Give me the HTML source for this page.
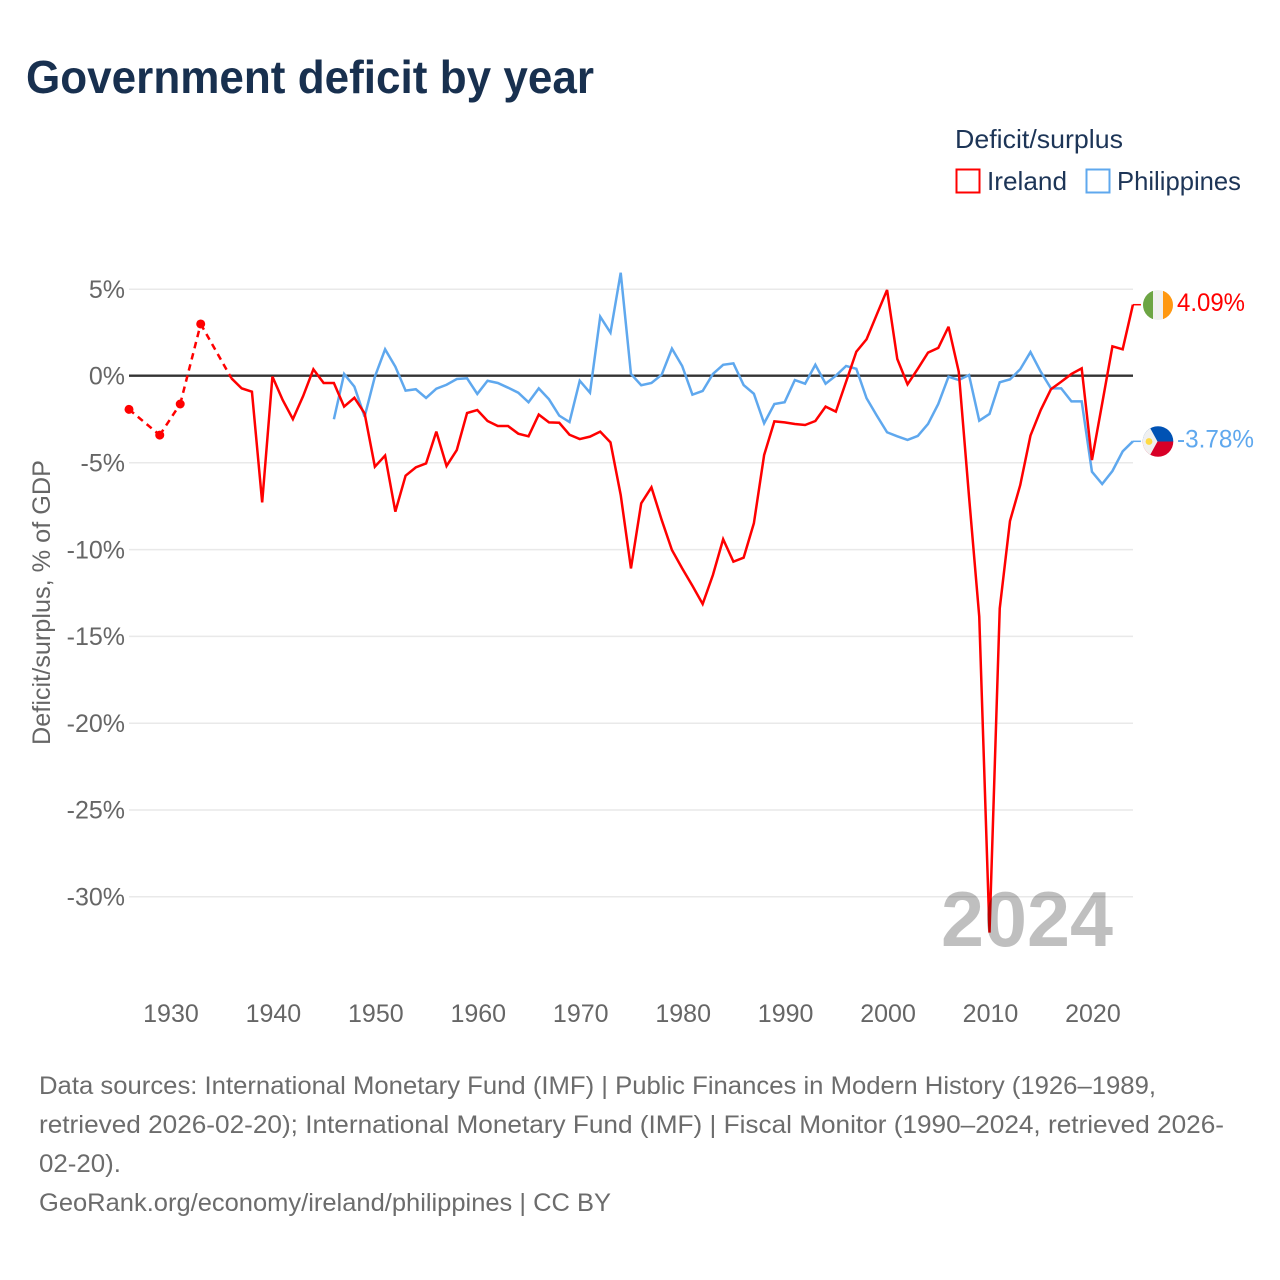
<!DOCTYPE html>
<html lang="en">
<head>
<meta charset="utf-8">
<title>Government deficit by year</title>
<style>
html,body{margin:0;padding:0;background:#fff;}
svg{display:block;font-family:"Liberation Sans",sans-serif;}
</style>
</head>
<body>
<svg id="chart" xmlns="http://www.w3.org/2000/svg" width="1280" height="1280" viewBox="0 0 1280 1280">
  <rect x="0" y="0" width="1280" height="1280" fill="#fff"/>
  <text x="26" y="93" font-size="46" font-weight="700" fill="#18304f" textLength="568" lengthAdjust="spacingAndGlyphs">Government deficit by year</text>

  <g>
    <text x="955" y="148" font-size="26" fill="#1d3557" textLength="168" lengthAdjust="spacingAndGlyphs">Deficit/surplus</text>
    <g>
      <rect x="956.5" y="169.5" width="23" height="23" fill="none" stroke="#ff0000" stroke-width="2"/>
      <text x="987" y="190" font-size="26" fill="#1d3557" textLength="80" lengthAdjust="spacingAndGlyphs">Ireland</text>
    </g>
    <g>
      <rect x="1086.5" y="169.5" width="23" height="23" fill="none" stroke="#5fa8ee" stroke-width="2"/>
      <text x="1117" y="190" font-size="26" fill="#1d3557" textLength="124" lengthAdjust="spacingAndGlyphs">Philippines</text>
    </g>
  </g>

  <text transform="translate(50 745) rotate(-90)" font-size="25" fill="#666" textLength="285" lengthAdjust="spacingAndGlyphs">Deficit/surplus, % of GDP</text>

  <g id="grid"></g>
  <g id="ytick-labels"></g>
  <g id="xtick-labels"></g>
  <g id="zero"></g>
  <g id="series"></g>

  <text x="941" y="946" font-size="78" font-weight="700" fill="#000" fill-opacity="0.25" textLength="172" lengthAdjust="spacingAndGlyphs">2024</text>

  <g id="flag-ireland">
    <clipPath id="clip-ie"><circle cx="1158" cy="305" r="15"/></clipPath>
    <g clip-path="url(#clip-ie)">
      <rect x="1143" y="290" width="30" height="30" fill="#f0f0f0"/>
      <rect x="1143" y="290" width="10" height="30" fill="#6da544"/>
      <rect x="1163" y="290" width="10" height="30" fill="#ff9811"/>
    </g>
  </g>
  <g id="flag-philippines">
    <clipPath id="clip-ph"><circle cx="1158" cy="441.5" r="15.3"/></clipPath>
    <g clip-path="url(#clip-ph)">
      <rect x="1142" y="426" width="32" height="15.5" fill="#0052b4"/>
      <rect x="1142" y="441.5" width="32" height="15.5" fill="#d80027"/>
      <polygon points="1142,426 1149,426 1157.5,441.5 1149,457 1142,457" fill="#f0f0f0"/>
      <circle cx="1149" cy="441.5" r="3.4" fill="#ffda44"/>
    </g>
  </g>
  <text id="label-ireland" x="1177" y="311" font-size="25" fill="#ff0000" textLength="68" lengthAdjust="spacingAndGlyphs"></text>
  <text id="label-philippines" x="1177" y="447.5" font-size="25" fill="#5fa8ee" textLength="77" lengthAdjust="spacingAndGlyphs"></text>

  <g font-size="25" fill="#6c6c6c">
    <text x="39" y="1094" textLength="1117" lengthAdjust="spacingAndGlyphs">Data sources: International Monetary Fund (IMF) | Public Finances in Modern History (1926–1989,</text>
    <text x="39" y="1133" textLength="1185" lengthAdjust="spacingAndGlyphs">retrieved 2026-02-20); International Monetary Fund (IMF) | Fiscal Monitor (1990–2024, retrieved 2026-</text>
    <text x="39" y="1172" textLength="82" lengthAdjust="spacingAndGlyphs">02-20).</text>
    <text x="39" y="1211" textLength="572" lengthAdjust="spacingAndGlyphs">GeoRank.org/economy/ireland/philippines | CC BY</text>
  </g>
</svg>
<script>
const yTicks = [5, 0, -5, -10, -15, -20, -25, -30];
const xTicks = [1930, 1940, 1950, 1960, 1970, 1980, 1990, 2000, 2010, 2020];
const irelandStartYear = 1926;
const irelandValues = [
  -1.94, null, null, -3.42,
  null, -1.63, null, 2.98, null, null, -0.15, -0.73, -0.92, -7.3,
  -0.05, -1.4, -2.5, -1.17, 0.37, -0.42, -0.42, -1.78, -1.27, -2.17,
  -5.24, -4.6, -7.83, -5.76, -5.28, -5.05, -3.22, -5.2, -4.28, -2.15,
  -1.98, -2.61, -2.9, -2.9, -3.34, -3.49, -2.24, -2.69, -2.71, -3.4,
  -3.65, -3.51, -3.22, -3.84, -6.87, -11.1, -7.35, -6.43, -8.31, -10.04,
  -11.1, -12.1, -13.15, -11.48, -9.42, -10.71, -10.48, -8.5, -4.57, -2.63,
  -2.69, -2.78, -2.84, -2.61, -1.78, -2.07, -0.35, 1.38, 2.1, 3.53,
  4.94, 0.96, -0.5, 0.4, 1.33, 1.6, 2.82, 0.23, -6.95, -13.88,
  -32.08, -13.4, -8.37, -6.3, -3.45, -1.98, -0.78, -0.35, 0.1, 0.42,
  -4.86, -1.6, 1.69, 1.52, 4.09
];
const philippinesStartYear = 1946;
const philippinesValues = [
  -2.51, 0.1, -0.63, -2.36,
  -0.06, 1.52, 0.52, -0.86, -0.78, -1.28, -0.75, -0.52, -0.19, -0.15,
  -1.05, -0.29, -0.42, -0.69, -0.98, -1.53, -0.73, -1.36, -2.3, -2.67,
  -0.29, -0.98, 3.4, 2.48, 5.93, 0.1, -0.55, -0.42, 0.06, 1.56,
  0.56, -1.09, -0.88, 0.1, 0.63, 0.71, -0.54, -1.04, -2.74, -1.63,
  -1.53, -0.25, -0.46, 0.63, -0.46, 0, 0.56, 0.4, -1.3, -2.3,
  -3.26, -3.49, -3.7, -3.47, -2.78, -1.63, -0.06, -0.25, 0.04, -2.59,
  -2.2, -0.38, -0.21, 0.37, 1.36, 0.23, -0.73, -0.73, -1.48, -1.48,
  -5.53, -6.24, -5.49, -4.36, -3.78
];

const SVGNS = 'http://www.w3.org/2000/svg';
const xScale = function (year) { return 129 + (year - 1926) * 10.244; };
const yScale = function (v) { return 375.7 - v * 17.36; };

function make(tag, parent, attrs) {
  const el = document.createElementNS(SVGNS, tag);
  Object.keys(attrs).forEach(function (k) { el.setAttribute(k, attrs[k]); });
  parent.appendChild(el);
  return el;
}

const gridG = document.getElementById('grid');
const yLabG = document.getElementById('ytick-labels');
const xLabG = document.getElementById('xtick-labels');
const zeroG = document.getElementById('zero');
const seriesG = document.getElementById('series');

yTicks.forEach(function (t) {
  const line = make('line', gridG, { x1: 129, x2: 1133, y1: yScale(t) + 0.3, y2: yScale(t) + 0.3, stroke: '#e9e9e9', 'stroke-width': 1.5 });
  
  
  const label = make('text', yLabG, { x: 125, y: yScale(t) + 9, 'text-anchor': 'end', 'font-size': 25, fill: '#666' });
  
  
  label.textContent = t + '%';
});

xTicks.forEach(function (t) {
  const label = make('text', xLabG, { x: xScale(t) + 1, y: 1022, 'text-anchor': 'middle', 'font-size': 25, fill: '#666' });
  
  
  label.textContent = t;
});

const zeroLine = make('line', zeroG, { x1: 129, x2: 1133, y1: yScale(0), y2: yScale(0), stroke: '#333', 'stroke-width': 2.4 });



function drawSeries(values, startYear, color) {
  let solid = '';
  let prevIdx = -1;
  values.forEach(function (v, i) {
    if (v === null) { return; }
    const px = xScale(startYear + i);
    const py = yScale(v);
    if (prevIdx === i - 1 && prevIdx >= 0) {
      solid += 'L' + px.toFixed(2) + ' ' + py.toFixed(2);
    } else {
      if (prevIdx >= 0) {
        const dash = make('line', seriesG, {
          x1: xScale(startYear + prevIdx), y1: yScale(values[prevIdx]), x2: px, y2: py,
          stroke: color, 'stroke-width': 2.5, 'stroke-dasharray': '6.5 5'
        });
        
        
      }
      solid += 'M' + px.toFixed(2) + ' ' + py.toFixed(2);
    }
    const prevMissing = i === 0 || values[i - 1] === null;
    const nextMissing = i === values.length - 1 || values[i + 1] === null;
    if (prevMissing && nextMissing) {
      const dot = make('circle', seriesG, { cx: px, cy: py, r: 4.5, fill: color });
      
      
    }
    prevIdx = i;
  });
  const path = make('path', seriesG, { d: solid, fill: 'none', stroke: color, 'stroke-width': 2.5, 'stroke-linejoin': 'miter', 'stroke-miterlimit': 3 });
  
  
  const last = values[values.length - 1];
  const lastX = xScale(startYear + values.length - 1);
  const conn = make('line', seriesG, { x1: lastX, x2: lastX + 8, y1: yScale(last), y2: yScale(last), stroke: color, 'stroke-width': 1.5 });
  
  
}

drawSeries(philippinesValues, philippinesStartYear, '#5fa8ee');
drawSeries(irelandValues, irelandStartYear, '#ff0000');

document.getElementById('label-ireland').textContent = irelandValues[irelandValues.length - 1].toFixed(2) + '%';
document.getElementById('label-philippines').textContent = philippinesValues[philippinesValues.length - 1].toFixed(2) + '%';
</script>
</body>
</html>
